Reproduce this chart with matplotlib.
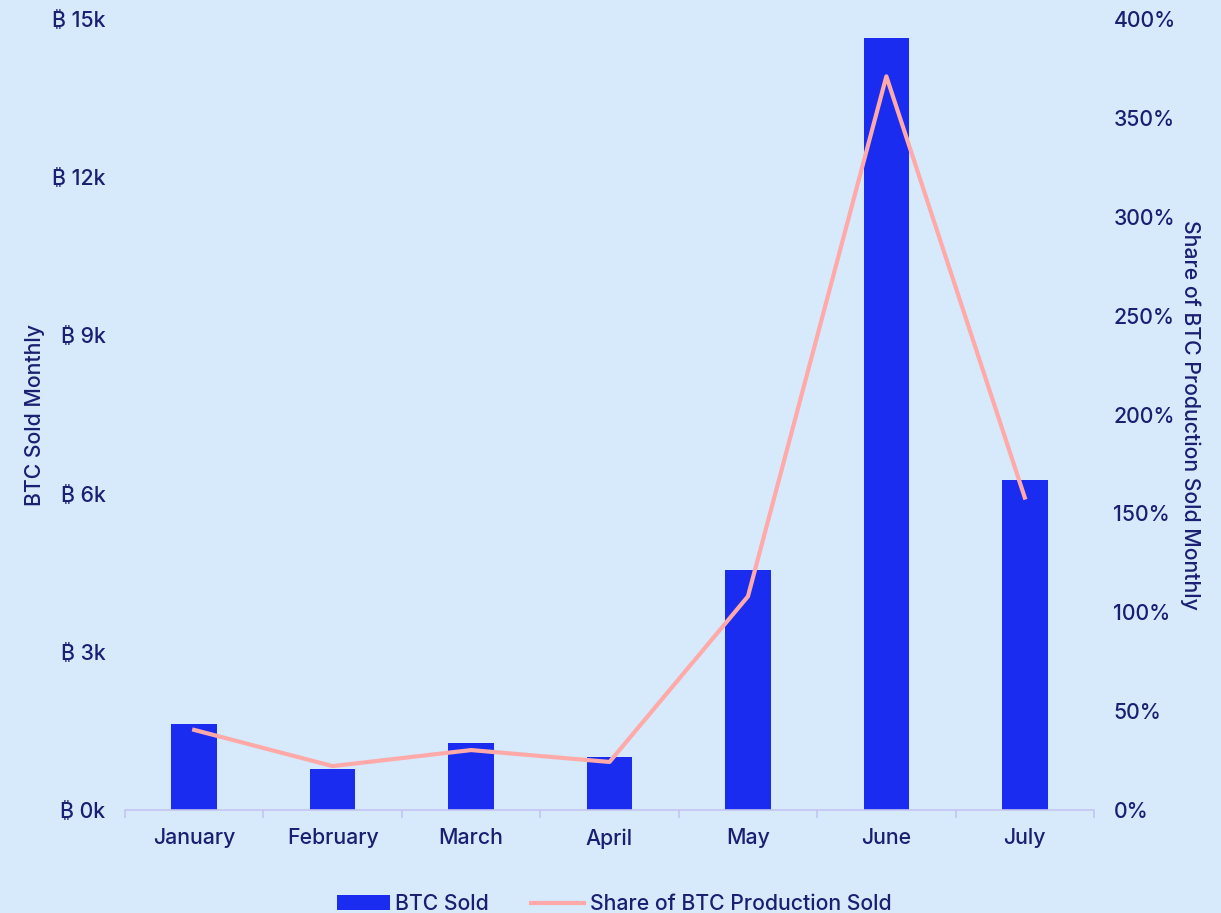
import matplotlib
matplotlib.use("Agg")
import matplotlib.pyplot as plt
from matplotlib.ticker import FuncFormatter

months = ["January", "February", "March", "April", "May", "June", "July"]
btc_sold = [1630, 780, 1270, 1000, 4550, 14640, 6260]
share_sold = [40.5, 22.2, 30.3, 24.3, 108, 371, 158]

bg = "#d6eafc"
navy = "#1b1f72"
bar_color = "#1a2cf0"
line_color = "#ffaaa8"
axis_color = "#c4c4f2"
fs = 15.3

plt.rcParams['font.family'] = ['Inter', 'Noto Sans', 'DejaVu Sans']
plt.rcParams['font.weight'] = 'medium'

fig = plt.figure(figsize=(12.21, 9.13), dpi=100, facecolor=bg)
ax = fig.add_axes([125 / 1221, 103 / 913, 969 / 1221, 791 / 913])
ax.set_facecolor(bg)
x = list(range(len(months)))

# bars on the left axis
bars = ax.bar(x, btc_sold, width=0.33, color=bar_color, label="BTC Sold", zorder=2)
ax.set_xlim(-0.5, len(months) - 0.5)
ax.set_ylim(0, 15000)
ax.set_yticks([0, 3000, 6000, 9000, 12000, 15000])
ax.yaxis.set_major_formatter(FuncFormatter(lambda v, p: "\u20bf %dk" % (v / 1000)))
ax.set_xticks(x)
ax.set_xticklabels(months)
ax.set_xticks([i - 0.5 for i in range(len(months) + 1)], minor=True)
ax.tick_params(axis="x", which="major", length=0, pad=13, labelsize=fs, labelcolor=navy)
ax.tick_params(axis="x", which="minor", length=6, color=axis_color, width=1.2)
ax.tick_params(axis="y", length=0, pad=14, labelsize=fs, labelcolor=navy)
for s in ["top", "left", "right"]:
    ax.spines[s].set_visible(False)
ax.spines["bottom"].set_color(axis_color)
ax.spines["bottom"].set_linewidth(1.2)
ax.set_ylabel("BTC Sold Monthly", fontsize=fs, color=navy, labelpad=5, fontweight="medium")

# share line on the right axis
ax2 = ax.twinx()
line, = ax2.plot(x, share_sold, color=line_color, linewidth=3, label="Share of BTC Production Sold", zorder=3)
ax2.set_ylim(0, 400)
ax2.set_yticks(range(0, 401, 50))
ax2.yaxis.set_major_formatter(FuncFormatter(lambda v, p: "%d%%" % v))
ax2.tick_params(axis="y", length=0, pad=14, labelsize=fs, labelcolor=navy)
for s in ["top", "left", "right", "bottom"]:
    ax2.spines[s].set_visible(False)
ax2.set_ylabel("Share of BTC Production Sold Monthly", fontsize=fs, color=navy,
               rotation=270, labelpad=18, fontweight="medium")

fig.legend(handles=[bars, line], loc="center", bbox_to_anchor=(614 / 1221, 9 / 913),
           ncol=2, frameon=False, fontsize=fs, labelcolor=navy,
           handlelength=2.5, handletextpad=0.25, columnspacing=2.0)

fig.savefig("out.png", dpi=100, facecolor=bg)
